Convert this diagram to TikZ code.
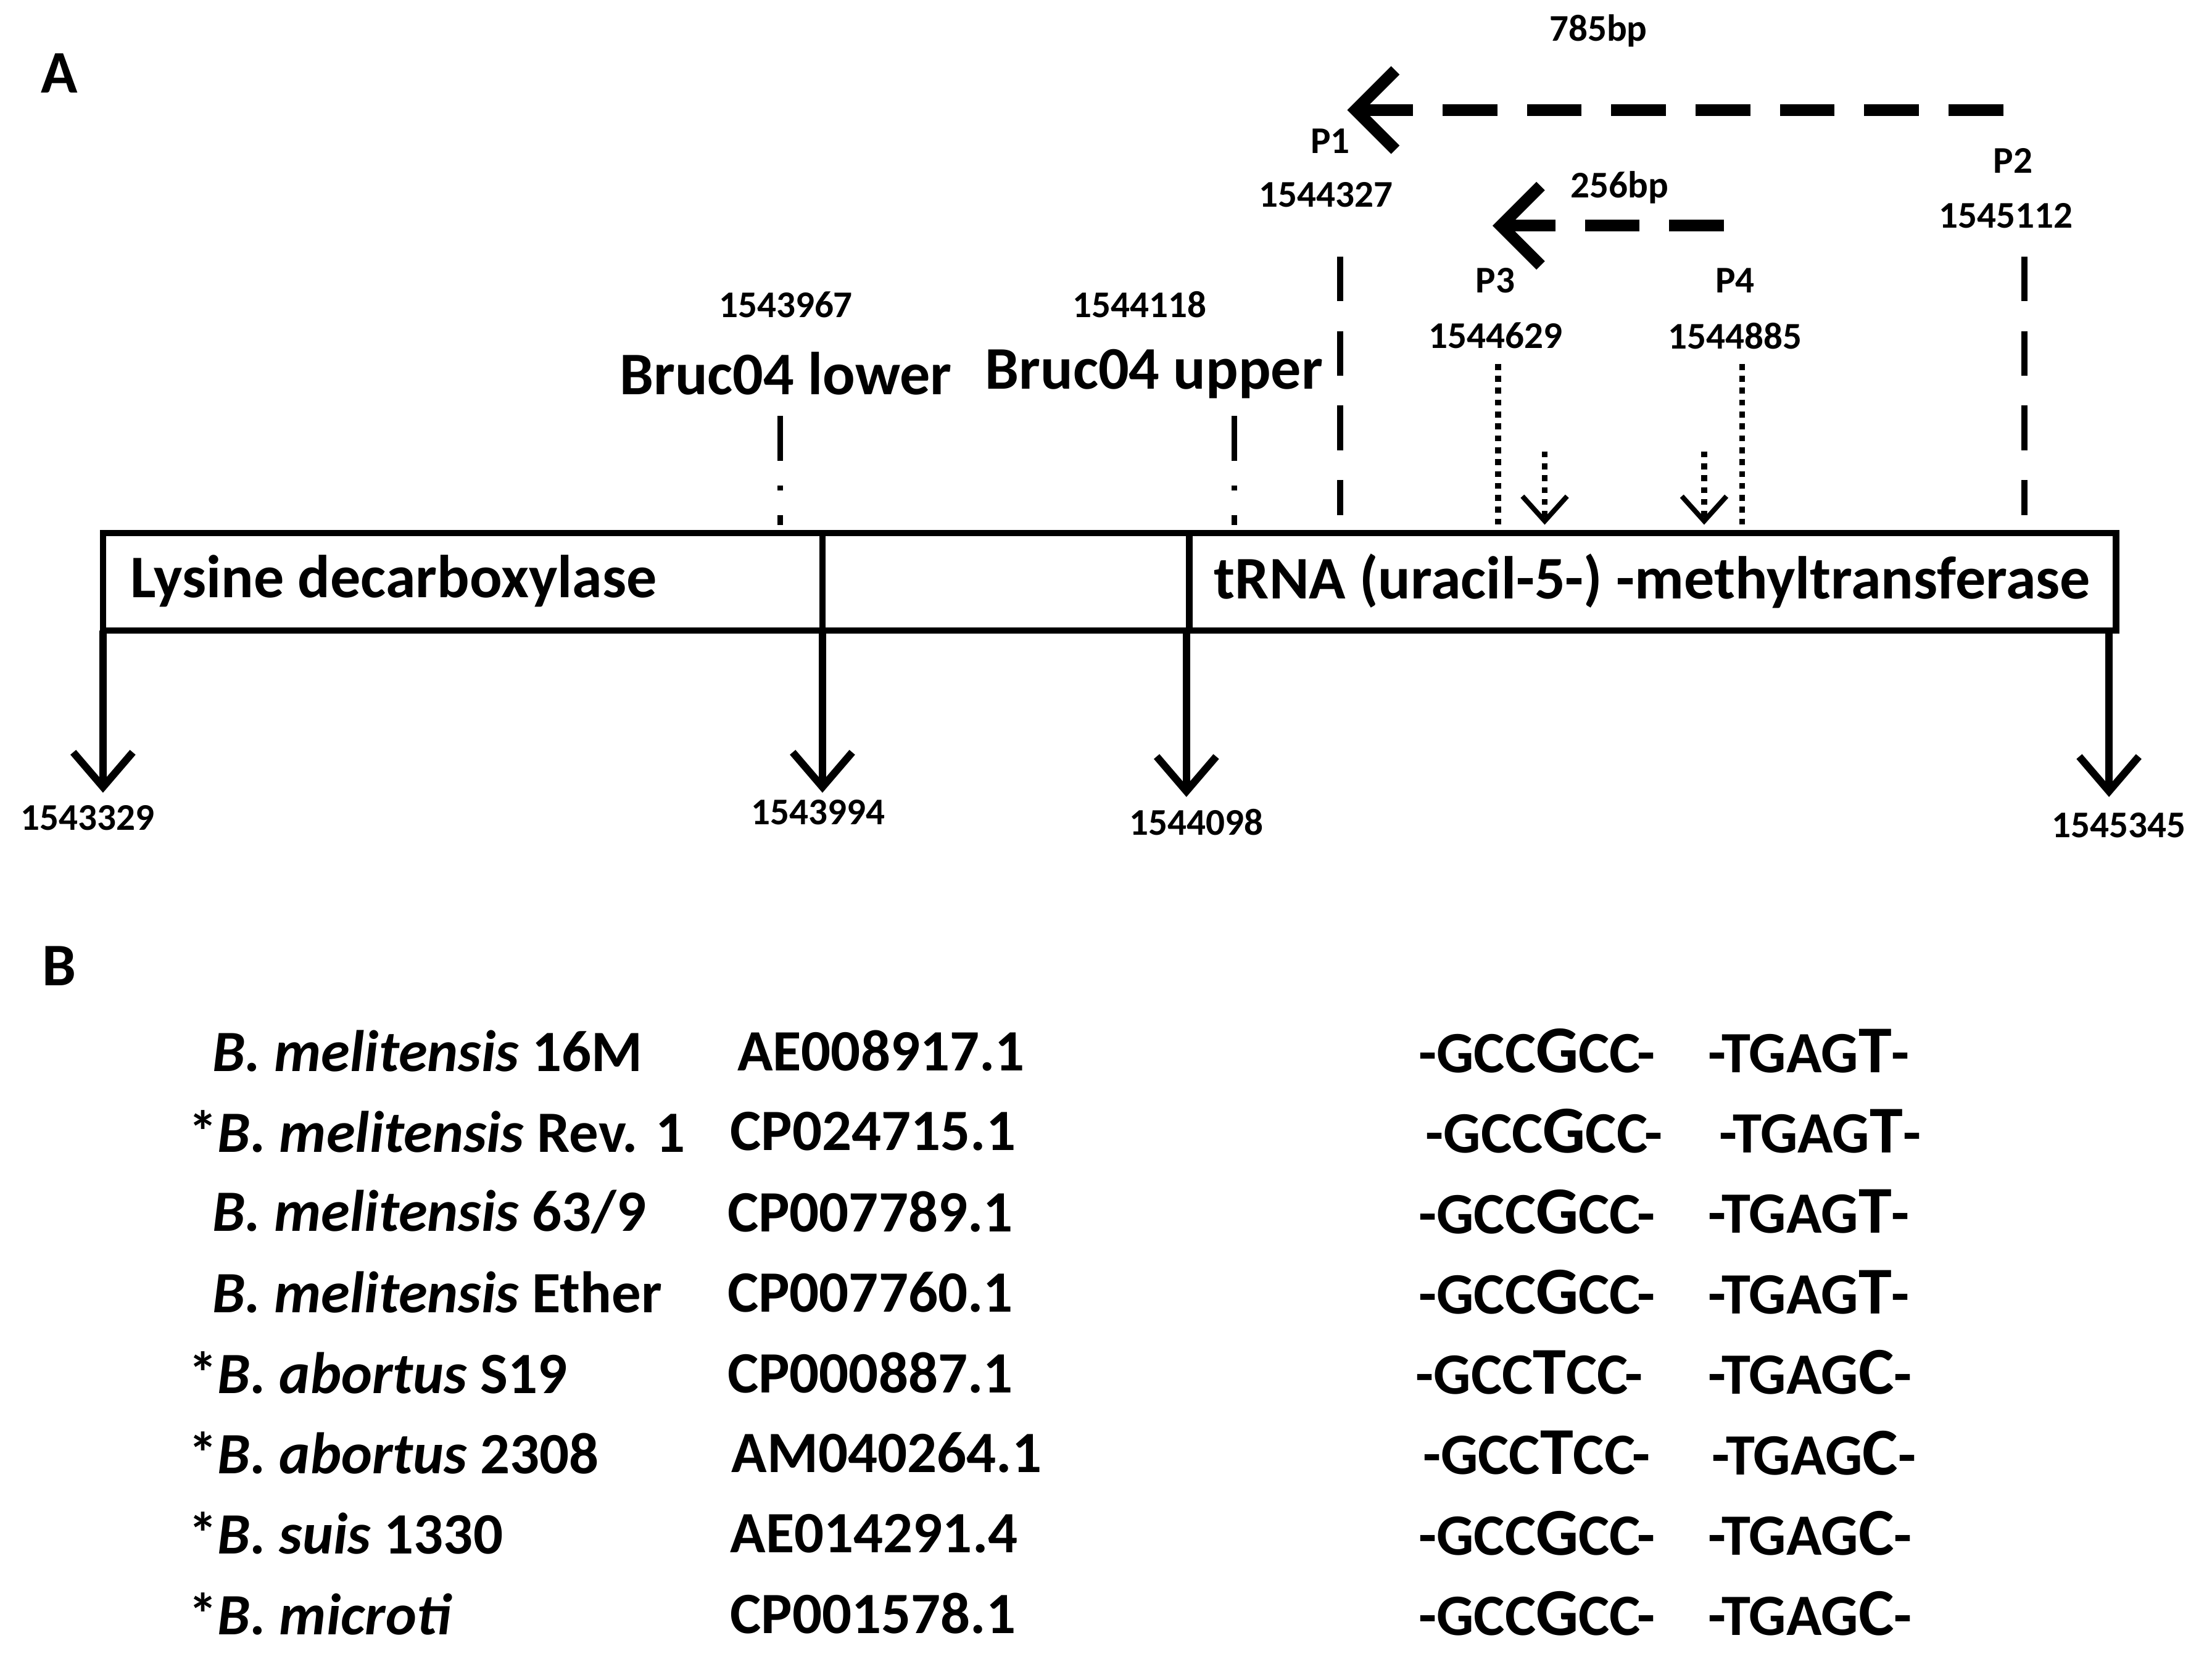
\documentclass[tikz,border=0pt]{standalone}
\usepackage{fontspec}
\setmainfont{Carlito}
\usetikzlibrary{arrows.meta}
\begin{document}
\begin{tikzpicture}[x=0.01cm,y=-0.01cm,
 t/.style={inner sep=0pt,font=\bfseries\fontsize{12.2}{14}\selectfont},
 n/.style={inner sep=0pt,font=\bfseries\fontsize{7.6}{9}\selectfont},
 s/.style={inner sep=0pt,anchor=west,font=\bfseries\fontsize{11.8}{13}\selectfont},
 down/.style={line width=1.5pt,-{Straight Barb[length=7pt,width=12pt,line width=1.5pt]}},
 big/.style={line width=2.4pt,dash pattern=on 11pt off 6pt,-{Straight Barb[length=8pt,width=16pt,line width=2.4pt]}},
 vd/.style={line width=1.2pt,dash pattern=on 9pt off 6pt},
 dot/.style={line width=1.2pt,dash pattern=on 1.2pt off 1.2pt},
 dotarr/.style={line width=1.2pt,dash pattern=on 1.2pt off 1.2pt,-{Straight Barb[length=5pt,width=9pt,line width=1pt]}}]
\useasboundingbox (0,0) rectangle (1568,1176);
\node[t] (A) at (42,52) {A};
\node[t] (B) at (42,685) {B};
% box
\draw[line width=1.3pt] (73,378) rectangle (1500,447);
\draw[line width=1.3pt] (583,378) -- (583,447) (843,378) -- (843,447);
\node[t,anchor=west] (lys) at (92,412) {Lysine decarboxylase};
\node[t,anchor=west] (trna) at (860,412) {tRNA (uracil-5-) -methyltransferase};
% down arrows
\coordinate (d1) at (73,447); \coordinate (e1) at (73,562);
\coordinate (d2) at (583,447); \coordinate (e2) at (583,562);
\coordinate (d3) at (841,447); \coordinate (e3) at (841,565);
\coordinate (d4) at (1495,447); \coordinate (e4) at (1495,565);
\draw[down] (d1) -- (e1); \draw[down] (d2) -- (e2);
\draw[down] (d3) -- (e3); \draw[down] (d4) -- (e4);
\node[n] (n1) at (62,580) {1543329};
\node[n] (n2) at (580,576) {1543994};
\node[n] (n3) at (848,583) {1544098};
\node[n] (n4) at (1502,585) {1545345};
% Bruc04
\node[n] (b1n) at (557,216) {1543967};
\node[t] (b1) at (557,265) {Bruc04 lower};
\node[n] (b2n) at (808,216) {1544118};
\node[t] (b2) at (818,265) {Bruc04 upper};
\draw[line width=1.2pt,dash pattern=on 9pt off 5pt on 1pt off 5pt] (553,295) -- (553,372);
\draw[line width=1.2pt,dash pattern=on 9pt off 5pt on 1pt off 5pt] (875,295) -- (875,372);
% P1/P2
\draw[vd] (950,182) -- (950,365);
\draw[vd] (1435,182) -- (1435,365);
\coordinate (p2s) at (1420,78); \coordinate (p1e) at (955,78);
\draw[big] (p2s) -- (p1e);
\node[n] (l785) at (1133,22) {785bp};
\node[n] (P1) at (943,100) {P1};
\node[n] (c1) at (940,138) {1544327};
\node[n] (P2) at (1427,114) {P2};
\node[n] (c2) at (1422,153) {1545112};
% P3/P4
\coordinate (p4s) at (1222,160); \coordinate (p3e) at (1058,160);
\draw[big] (p4s) -- (p3e);
\node[n] (l256) at (1148,133) {256bp};
\node[n] (P3) at (1060,199) {P3};
\node[n] (c3) at (1060,238) {1544629};
\node[n] (P4) at (1230,199) {P4};
\node[n] (c4) at (1230,238) {1544885};
\draw[dot] (1062,258) -- (1062,375);
\draw[dot] (1235,258) -- (1235,375);
\draw[dotarr] (1095,320) -- (1095,372);
\draw[dotarr] (1208,320) -- (1208,372);
% section B
\newcommand{\bg}[1]{{\fontsize{13.5}{13}\selectfont #1}}
\node[s] (r1) at (150,745) {\textit{B. melitensis} 16M};
\node[s] (r2) at (133,802) {*\textit{B. melitensis} Rev. 1};
\node[s] (r3) at (150,859) {\textit{B. melitensis} 63/9};
\node[s] (r4) at (150,916) {\textit{B. melitensis} Ether};
\node[s] (r5) at (133,973) {*\textit{B. abortus} S19};
\node[s] (r6) at (133,1030) {*\textit{B. abortus} 2308};
\node[s] (r7) at (133,1087) {*\textit{B. suis} 1330};
\node[s] (r8) at (133,1144) {*\textit{B. microti}};
\node[s] (a1) at (522,745) {AE008917.1};
\node[s] (a2) at (517,802) {CP024715.1};
\node[s] (a3) at (515,859) {CP007789.1};
\node[s] (a4) at (515,916) {CP007760.1};
\node[s] (a5) at (515,973) {CP000887.1};
\node[s] (a6) at (518,1030) {AM040264.1};
\node[s] (a7) at (517,1087) {AE014291.4};
\node[s] (a8) at (517,1144) {CP001578.1};
\node[s] (q1) at (1005,745) {-GCC\bg{G}CC-};
\node[s] (q2) at (1010,802) {-GCC\bg{G}CC-};
\node[s] (q3) at (1005,859) {-GCC\bg{G}CC-};
\node[s] (q4) at (1005,916) {-GCC\bg{G}CC-};
\node[s] (q5) at (1003,973) {-GCC\bg{T}CC-};
\node[s] (q6) at (1008,1030) {-GCC\bg{T}CC-};
\node[s] (q7) at (1005,1087) {-GCC\bg{G}CC-};
\node[s] (q8) at (1005,1144) {-GCC\bg{G}CC-};
\node[s] (w1) at (1210,745) {-TGAG\bg{T}-};
\node[s] (w2) at (1218,802) {-TGAG\bg{T}-};
\node[s] (w3) at (1210,859) {-TGAG\bg{T}-};
\node[s] (w4) at (1210,916) {-TGAG\bg{T}-};
\node[s] (w5) at (1210,973) {-TGAG\bg{C}-};
\node[s] (w6) at (1213,1030) {-TGAG\bg{C}-};
\node[s] (w7) at (1210,1087) {-TGAG\bg{C}-};
\node[s] (w8) at (1210,1144) {-TGAG\bg{C}-};
\end{tikzpicture}
\end{document}
